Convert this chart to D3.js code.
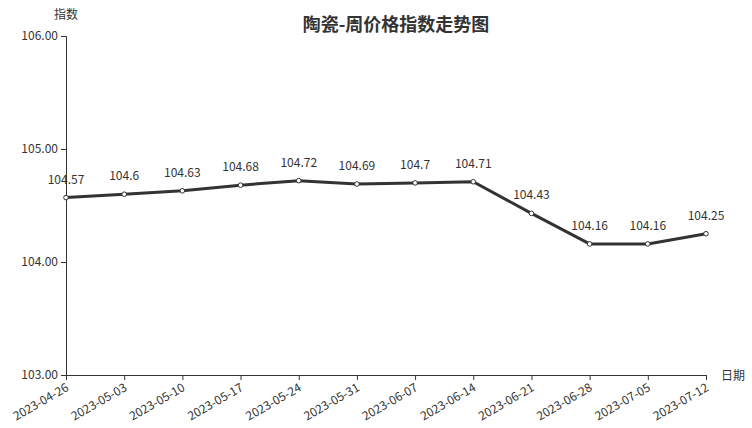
<!DOCTYPE html>
<html><head><meta charset="utf-8">
<script src="https://cdn.jsdelivr.net/npm/d3@7"></script>
<style>body{margin:0;background:#fff}svg{display:block}text{font-family:"Noto Sans CJK SC",sans-serif}</style>
</head><body>
<svg id="c" width="752" height="428"></svg>
<script>
const dates = ["2023-04-26","2023-05-03","2023-05-10","2023-05-17","2023-05-24","2023-05-31","2023-06-07","2023-06-14","2023-06-21","2023-06-28","2023-07-05","2023-07-12"];
const values = [104.57,104.6,104.63,104.68,104.72,104.69,104.7,104.71,104.43,104.16,104.16,104.25];
const yTicks = [103,104,105,106];
const title = "陶瓷-周价格指数走势图";

const svg = d3.select("#c");
const m = {l:66, r:706, t:36, b:375};
const x = d3.scalePoint().domain(dates).range([m.l, m.r]);
const y = d3.scaleLinear().domain([103,106]).range([m.b, m.t]);
const col = "#333";

svg.append("text").attr("x", 396).attr("y", 31).attr("text-anchor","middle")
  .attr("font-size", 18).attr("font-weight","bold").attr("fill", col).text(title);

const ya = svg.append("g").attr("transform", `translate(${m.l},0)`)
  .call(d3.axisLeft(y).tickValues(yTicks).tickFormat(d3.format(".2f")).tickSize(5).tickPadding(3));
ya.select(".domain").attr("stroke", col).attr("stroke-width",1);
ya.selectAll("line").attr("stroke", col);
ya.selectAll("text").attr("font-size", 12).attr("fill", col).style("font-family",'"Noto Sans CJK SC",sans-serif');

const xa = svg.append("g").attr("transform", `translate(0,${m.b})`)
  .call(d3.axisBottom(x).tickSize(5).tickSizeOuter(0));
xa.select(".domain").attr("stroke", col);
xa.selectAll("line").attr("stroke", col);
xa.selectAll("text").attr("font-size", 12).attr("fill", col).style("font-family",'"Noto Sans CJK SC",sans-serif')
  .attr("text-anchor","end").attr("dy", null).attr("y", 0).attr("x", 0)
  .attr("transform","translate(3,15) rotate(-30)");

svg.append("text").attr("x", 54).attr("y", 19).attr("font-size", 12).attr("fill", col).text("指数");
svg.append("text").attr("x", 721).attr("y", 380).attr("font-size", 12).attr("fill", col).text("日期");

const line = d3.line().x((d,i)=>x(dates[i])).y(d=>y(d));
svg.append("path").datum(values).attr("d", line).attr("fill","none")
  .attr("stroke", col).attr("stroke-width", 3).attr("stroke-linejoin","round");

svg.selectAll("circle.p").data(values).join("circle")
  .attr("cx",(d,i)=>x(dates[i])).attr("cy", d=>y(d)).attr("r", 2.3)
  .attr("fill","#fff").attr("stroke", col).attr("stroke-width",1);

svg.selectAll("text.lbl").data(values).join("text").attr("class","lbl")
  .attr("x",(d,i)=>x(dates[i])).attr("y", d=>y(d)-14)
  .attr("text-anchor","middle").attr("font-size", 12).attr("fill", col)
  .text(d=>String(d));
</script>
</body></html>
